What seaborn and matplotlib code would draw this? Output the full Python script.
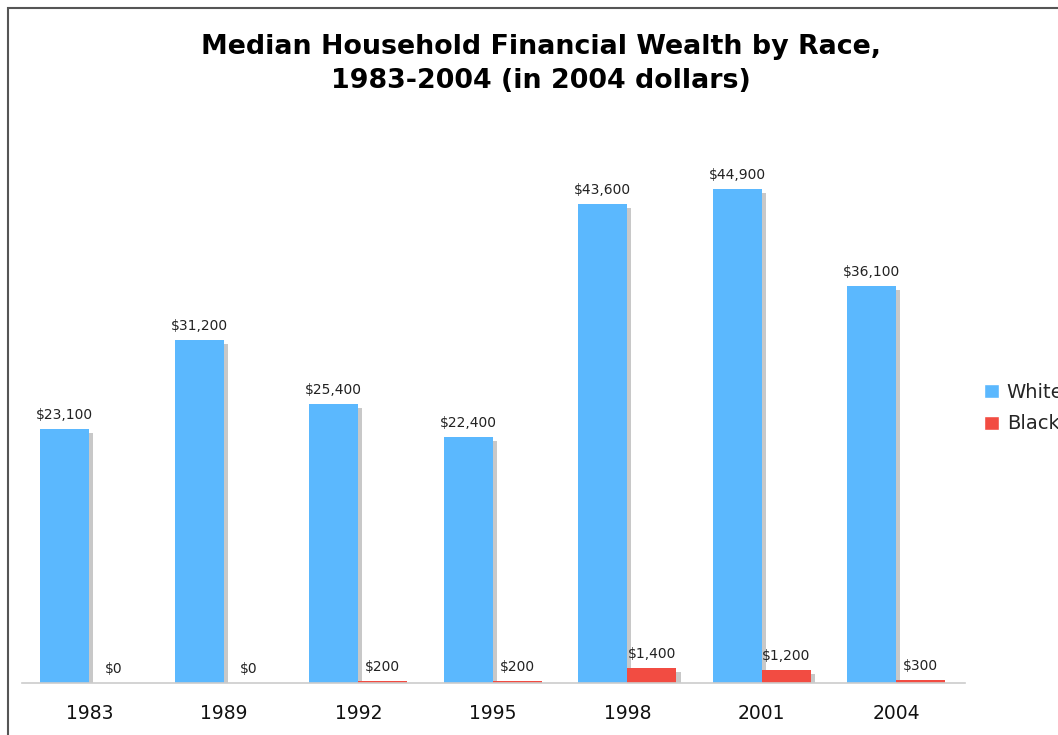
import pandas as pd
import matplotlib.pyplot as plt
import matplotlib.patheffects as pe
from matplotlib.patches import Rectangle
import seaborn as sns

years = ["1983", "1989", "1992", "1995", "1998", "2001", "2004"]
white = [23100, 31200, 25400, 22400, 43600, 44900, 36100]
black = [0, 0, 200, 200, 1400, 1200, 300]

df = pd.DataFrame({
    "year": years * 2,
    "value": white + black,
    "race": ["White"] * len(years) + ["Black"] * len(years),
})

sns.set_theme(style="white")
plt.rcParams["font.family"] = ["DejaVu Sans"]

fig = plt.figure(figsize=(10.58, 7.35), dpi=100)
ax = fig.add_axes([0.0208, 0.0707, 0.8912, 0.748])

colors = {"White": "#5bb8fe", "Black": "#f24c42"}
sns.barplot(data=df, x="year", y="value", hue="race", palette=colors,
            width=0.73, saturation=1, ax=ax, legend=True)

# legend first, so its handles don't pick up the shadow
leg = ax.legend(loc="center left", bbox_to_anchor=(1.0125, 0.5), frameon=False,
                fontsize=14, handlelength=0.75, handleheight=0.75, handletextpad=0.4,
                labelspacing=0.65, borderaxespad=0)

shadow = [pe.SimplePatchShadow(offset=(3, -3), shadow_rgbFace="#c8c8c8", alpha=1),
          pe.Normal()]
for cont in ax.containers:
    for bar in cont:
        bar.set_edgecolor("none")
        bar.set_path_effects(shadow)

for cont, vals in zip(ax.containers, [white, black]):
    ax.bar_label(cont, labels=[f"${v:,.0f}" for v in vals], padding=5,
                 fontsize=10, color="#222222")

ax.set_xlim(-0.5, 6.51)
ax.set_ylim(0, 50000)
ax.set_xlabel("")
ax.set_ylabel("")
ax.set_yticks([])
ax.tick_params(axis="x", length=0, pad=15, labelsize=13.5, labelcolor="#111111")
for s in ["left", "right", "top"]:
    ax.spines[s].set_visible(False)
ax.spines["bottom"].set_color("#cccccc")
ax.spines["bottom"].set_linewidth(1.2)

fig.suptitle("Median Household Financial Wealth by Race,\n1983-2004 (in 2004 dollars)",
             x=0.511, y=1 - 34 / 735, va="top", fontsize=19.4, fontweight="bold",
             color="black", linespacing=1.42)

fig.patches.append(Rectangle((8 / 1058, -0.1), 1.2, 1.1 - 8 / 735, transform=fig.transFigure,
                             fill=False, edgecolor="#555555", linewidth=1.5))

fig.savefig("out.png", dpi=100)
